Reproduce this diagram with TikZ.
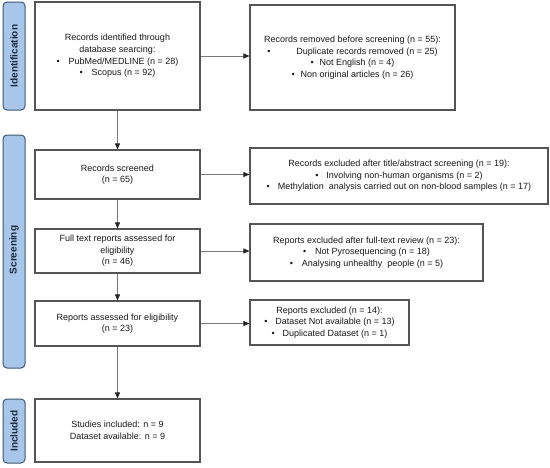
\documentclass[tikz,border=0pt]{standalone}
\usepackage{fontspec}
\setmainfont{Liberation Sans}
\usetikzlibrary{arrows.meta}
\definecolor{barfill}{HTML}{A7C6EA}
\definecolor{barline}{HTML}{3E5873}
\definecolor{bartext}{HTML}{1E2A38}
\definecolor{boxline}{HTML}{555555}
\definecolor{arrline}{HTML}{7A7A7A}
\newcommand{\bul}[1]{\textbullet\hspace{#1}}
\tikzset{
  x=1pt, y=-1pt,
  box/.style={draw=boxline, line width=1.1pt, fill=white, align=center, inner sep=0pt, font=\fontsize{9}{11.6}\selectfont, text=black!90},
  bar/.style={draw=barline, line width=1pt, fill=barfill, rounded corners=4pt},
  bartxt/.style={font=\fontsize{10}{11}\selectfont\bfseries, text=bartext, rotate=90},
  arr/.style={draw=arrline, line width=0.8pt, -{Triangle[length=6pt,width=5pt,color=black!85]}}
}
\begin{document}
\begin{tikzpicture}
\useasboundingbox (0,0) rectangle (550,467);
% side bars
\draw[bar] (3,2) rectangle (25,110);
\node[bartxt] (lid) at (14,56) {Identification};
\draw[bar] (3,135) rectangle (25,368);
\node[bartxt] (lsc) at (14,250) {Screening};
\draw[bar] (3,399) rectangle (25,463);
\node[bartxt] (lin) at (14,431) {Included};
% boxes
\node[box, minimum width=165pt, minimum height=108pt] (b1) at (117.5,56) {Records identified through\\database searcing:\\\bul{9pt}PubMed/MEDLINE (n = 28)\\\bul{9pt}Scopus (n = 92)};
\node[box, minimum width=205pt, minimum height=105pt] (r1) at (352.5,57.5) {Records removed before screening (n = 55):\\\bul{26pt}Duplicate records removed (n = 25)\\\bul{6pt}Not English (n = 4)\\\bul{6pt}Non original articles (n = 26)};
\node[box, minimum width=165pt, minimum height=49pt] (b2) at (117.5,174.5) {Records screened\\(n = 65)};
\node[box, minimum width=298pt, minimum height=56pt] (r2) at (399,176) {Records excluded after title/abstract screening (n = 19):\\\bul{8pt}Involving non-human organisms (n = 2)\\\bul{8pt}Methylation\ \ analysis carried out on non-blood samples (n = 17)};
\node[box, minimum width=165pt, minimum height=44pt] (b3) at (117.5,251) {Full text reports assessed for\\eligibility\\(n = 46)};
\node[box, minimum width=233pt, minimum height=57pt] (r3) at (366.5,252.5) {Reports excluded after full-text review (n = 23):\\\bul{9pt}Not Pyrosequencing (n = 18)\\\bul{9pt}Analysing unhealthy\ \ people (n = 5)};
\node[box, minimum width=165pt, minimum height=45pt] (b4) at (117.5,323.5) {Reports assessed for eligibility\\(n = 23)};
\node[box, minimum width=159pt, minimum height=45pt] (r4) at (329.5,322.5) {Reports excluded (n = 14):\\\bul{8pt}Dataset Not available (n = 13)\\\bul{8pt}Duplicated Dataset (n = 1)};
\node[box, minimum width=165pt, minimum height=63pt] (b5) at (117.5,430.5) {Studies included: n = 9\\Dataset available: n = 9};
% arrows
\draw[arr] (b1.east) -- (r1.west |- b1.east);
\draw[arr] (b2.east) -- (r2.west |- b2.east);
\draw[arr] (b3.east) -- (r3.west |- b3.east);
\draw[arr] (b4.east) -- (r4.west |- b4.east);
\draw[arr] (b1.south) -- (b2.north);
\draw[arr] (b2.south) -- (b3.north);
\draw[arr] (b3.south) -- (b4.north);
\draw[arr] (b4.south) -- (b5.north);
\end{tikzpicture}
\end{document}
